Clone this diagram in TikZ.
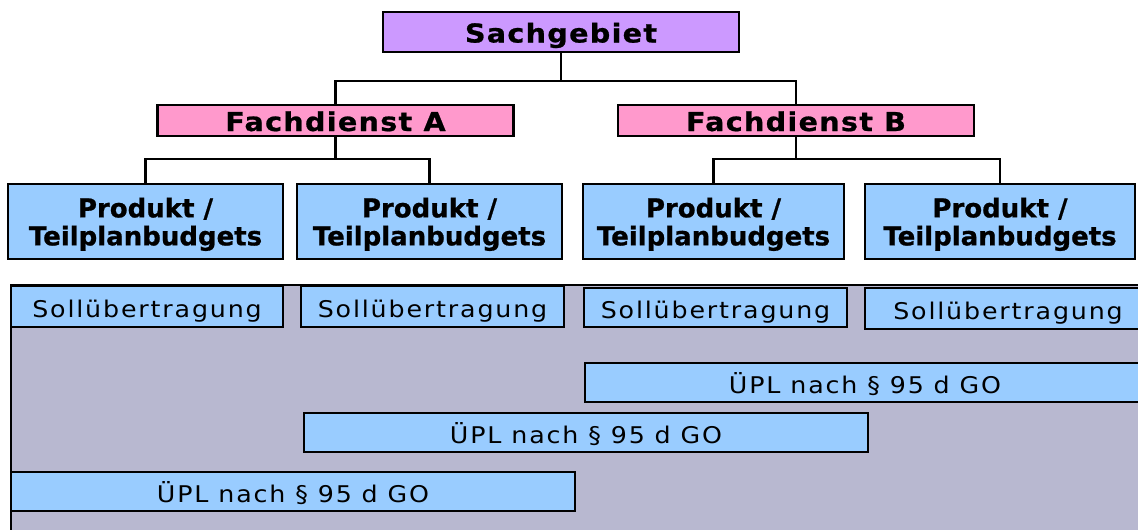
\documentclass[tikz,border=0pt]{standalone}
\usepackage{fontspec}
\setmainfont{DejaVu Sans}
\newfontfamily\headfont{DejaVu Sans Bold}[FakeStretch=1.1, LetterSpace=5, FakeBold=0.8]
\newfontfamily\prodfont{DejaVu Sans Bold}[FakeBold=0.8]
\newfontfamily\lowfont{DejaVu Sans}[FakeStretch=1.1, LetterSpace=8]
\definecolor{sachcol}{HTML}{CC99FF}
\definecolor{fachcol}{HTML}{FF99CC}
\definecolor{bluecol}{HTML}{99CCFF}
\definecolor{graycol}{HTML}{B8B8D0}
\tikzset{
  boxbase/.style={draw=black, line width=2.2pt, inner sep=0pt, anchor=center},
  sachbox/.style={boxbase, fill=sachcol, minimum width=356pt, minimum height=40pt,
     font=\headfont\fontsize{26}{28}\selectfont, text height=21pt, text depth=0pt},
  fachbox/.style={boxbase, fill=fachcol, minimum width=356pt, minimum height=31pt,
     font=\headfont\fontsize{26}{28}\selectfont, text height=21pt, text depth=0pt},
  prodbox/.style={boxbase, fill=bluecol, minimum height=75pt, align=center,
     font=\prodfont\fontsize{26}{28}\selectfont},
  lowbox/.style={boxbase, fill=bluecol, font=\lowfont\fontsize{23}{26}\selectfont,
     text height=21pt, text depth=0pt},
  conn/.style={draw=black, line width=2.2pt}
}
\begin{document}
\begin{tikzpicture}[x=1pt, y=-1pt]
\clip (0,0) rectangle (1138,530);
\fill[white] (0,0) rectangle (1138,530);
% top hierarchy
\node[sachbox] (sach) at (561,32) {Sachgebiet};
\node[fachbox] (fa) at (335.5,120.5) {Fachdienst A};
\node[fachbox] (fb) at (796,120.5) {Fachdienst B};
\node[prodbox, minimum width=275pt] (p1) at (145.5,221.5) {Produkt /\\\smash{Teilplanbudgets}};
\node[prodbox, minimum width=265pt] (p2) at (429.5,221.5) {Produkt /\\\smash{Teilplanbudgets}};
\node[prodbox, minimum width=261pt] (p3) at (713.5,221.5) {Produkt /\\\smash{Teilplanbudgets}};
\node[prodbox, minimum width=270pt] (p4) at (1000,221.5) {Produkt /\\\smash{Teilplanbudgets}};
\draw[conn] (sach.south) -- ++(0,28) -| (fa.north);
\draw[conn] (sach.south) -- ++(0,28) -| (fb.north);
\draw[conn] (fa.south) -- ++(0,22) -| (p1.north);
\draw[conn] (fa.south) -- ++(0,22) -| (p2.north);
\draw[conn] (fb.south) -- ++(0,22) -| (p3.north);
\draw[conn] (fb.south) -- ++(0,22) -| (p4.north);
% lower panel
\draw[fill=graycol, draw=black, line width=2.2pt] (11,285) rectangle (1170,560);
\node[lowbox, minimum width=272pt, minimum height=41pt] (s1) at (147,306.5) {Sollübertragung};
\node[lowbox, minimum width=263pt, minimum height=41pt] (s2) at (432.5,306.5) {Sollübertragung};
\node[lowbox, minimum width=263pt, minimum height=39pt] (s3) at (715.5,307.5) {Sollübertragung};
\node[lowbox, minimum width=286pt, minimum height=41pt] (s4) at (1008,308.5) {Sollübertragung};
\node[lowbox, minimum width=560pt, minimum height=39pt] (u1) at (865,382.5) {ÜPL nach § 95 d GO};
\node[lowbox, minimum width=564pt, minimum height=39pt] (u2) at (586,432.5) {ÜPL nach § 95 d GO};
\node[lowbox, minimum width=564pt, minimum height=39pt] (u3) at (293,491.5) {ÜPL nach § 95 d GO};
\end{tikzpicture}
\end{document}
